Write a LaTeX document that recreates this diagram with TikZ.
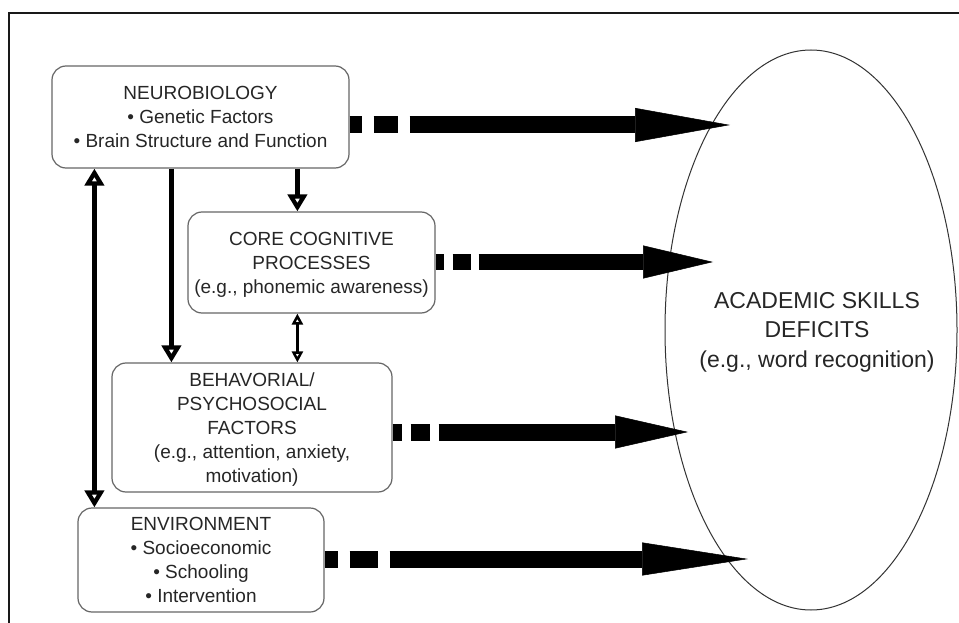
\documentclass[tikz,border=0pt]{standalone}
\usepackage{fontspec}
\setmainfont{Liberation Sans}
\usetikzlibrary{arrows.meta,shapes.geometric}
\begin{document}
\begin{tikzpicture}[x=1pt,y=-1pt,
  box/.style={draw=black!60, line width=1.2pt, rounded corners=14pt, fill=white,
    align=center, inner sep=0pt, text=black!85,
    font=\fontsize{19}{24}\selectfont, text depth=0pt},
  fat/.style={line width=17pt, black},
  vert/.style={line width=5pt, black},
  vtip/.tip={Triangle[open,length=17pt,width=19pt,line width=4.5pt]},
  stip/.tip={Triangle[open,length=11pt,width=11pt,line width=2.5pt]}
]
\useasboundingbox (0,0) rectangle (959,623);
\fill[white] (0,0) rectangle (959,623);
\draw[line width=2pt, black!90] (959,13) -- (9,13) -- (9,623);

% boxes
\node[box, minimum width=297pt, minimum height=102pt] (neuro) at (200.5,117)
  {NEUROBIOLOGY\\• Genetic Factors\\• Brain Structure and Function};
\node[box, minimum width=247pt, minimum height=101pt] (core) at (311.5,262.5)
  {CORE COGNITIVE\\PROCESSES\\(e.g., phonemic awareness)};
\node[box, minimum width=280pt, minimum height=129pt] (behav) at (252,427.5)
  {BEHAVORIAL/\\PSYCHOSOCIAL\\FACTORS\\(e.g., attention, anxiety,\\motivation)};
\node[box, minimum width=246pt, minimum height=104pt] (env) at (201,560)
  {ENVIRONMENT\\• Socioeconomic\\• Schooling\\• Intervention};

% ellipse and its text
\node[ellipse, draw=black!80, line width=1pt, minimum width=292pt, minimum height=560pt,
  inner sep=0pt] (asd) at (811,330) {};
\node[align=center, inner sep=0pt, text=black!85, font=\fontsize{23}{29.5}\selectfont]
  (asdtext) at ([xshift=6pt,yshift=-2pt]asd.center) {ACADEMIC SKILLS\\DEFICITS\\(e.g., word recognition)};

% tips of the big arrows
\coordinate (t1) at (730,125);
\coordinate (t2) at (713,262);
\coordinate (t3) at (688,432);
\coordinate (t4) at (748,559);

\draw[fat, dash pattern=on 12pt off 12pt on 24pt off 12pt on 2000pt off 1pt,
  -{Triangle[length=95pt,width=34pt,line width=0.5pt]}] (neuro.east |- t1) -- (t1);
\draw[fat, line width=16pt, dash pattern=on 8pt off 9pt on 18pt off 8pt on 2000pt off 1pt,
  -{Triangle[length=70pt,width=33pt,line width=0.5pt]}] (core.east |- t2) -- (t2);
\draw[fat, dash pattern=on 9pt off 9pt on 19pt off 9pt on 2000pt off 1pt,
  -{Triangle[length=73pt,width=33pt,line width=0.5pt]}] (behav.east |- t3) -- (t3);
\draw[fat, dash pattern=on 13pt off 12pt on 28pt off 12pt on 2000pt off 1pt,
  -{Triangle[length=106pt,width=33pt,line width=0.5pt]}] (env.east |- t4) -- (t4);

% vertical arrows
\draw[vert, vtip-vtip] ([xshift=43pt]neuro.south west) -- ([xshift=43pt]neuro.south west |- env.north);
\draw[vert, -vtip] ([xshift=120pt]neuro.south west) -- ([xshift=120pt]neuro.south west |- behav.north);
\draw[vert, -vtip] ([xshift=246pt]neuro.south west) -- ([xshift=246pt]neuro.south west |- core.north);
\draw[line width=2.5pt, stip-stip] ([xshift=110pt]core.south west) -- ([xshift=110pt]core.south west |- behav.north);
\end{tikzpicture}
\end{document}
